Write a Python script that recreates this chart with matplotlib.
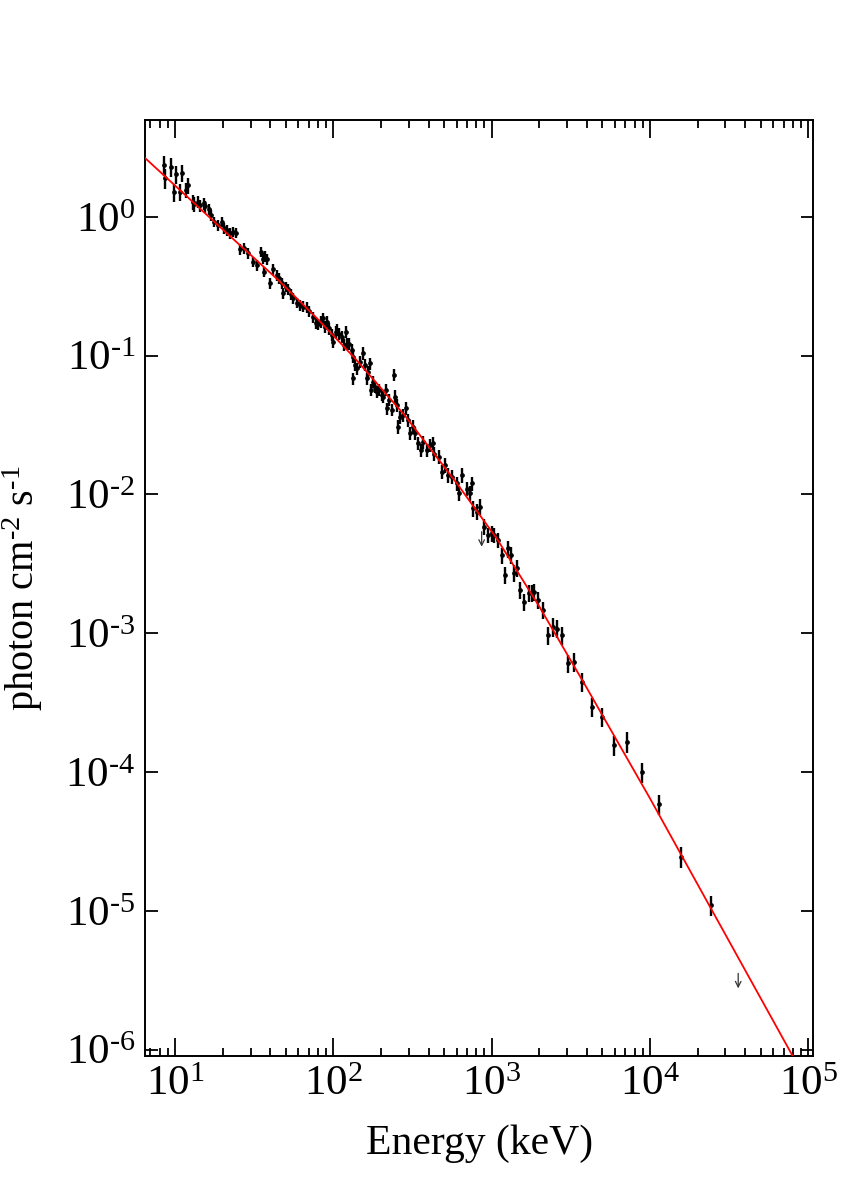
import numpy as np
import matplotlib
matplotlib.use("Agg")
import matplotlib.pyplot as plt
from matplotlib.ticker import FuncFormatter, NullLocator, NullFormatter, LogLocator

plt.rcParams.update({
    'font.family': 'Liberation Serif',
    'mathtext.fontset': 'custom',
    'mathtext.rm': 'Liberation Serif',
    'mathtext.it': 'Liberation Serif:italic',
    'mathtext.bf': 'Liberation Serif:bold',
})

# measured spectrum (keV, photon cm^-2 s^-1), relative 1-sigma error
energy = [8.52, 8.6, 9.40, 9.85, 10.15, 10.75, 11.1, 11.7, 12.1, 12.9, 13.2,
          14.0, 14.4, 15.3, 15.5, 16.5, 16.9, 17.7, 18.8, 19.7, 20.4, 21.4,
          22.2, 23.1, 24.3, 25.7, 27.3, 29.0, 31.0, 32.8, 34.8, 35.8, 36.5,
          37.0, 38.3, 39.8, 41.8, 43.9, 45.6, 47.2, 48.3, 50.2, 52.0, 53.8,
          55.9, 58.7, 61.6, 64.6, 67.9, 70.5, 74.8, 77.4, 80.4,
          83.2, 85.7, 88.7, 90.8, 94.4, 97.7, 100, 104, 106, 109, 113, 116,
          120, 122, 126, 131, 132.5, 134, 137, 142, 148, 153, 159, 163, 166,
          171, 172, 177, 183, 190, 195, 202, 207, 215, 219, 226, 234, 242,
          245, 251, 257, 264, 277, 288, 298, 305, 318, 328, 344, 357, 367,
          389, 408, 425, 433, 468, 484, 508, 533, 560, 602, 626, 647, 696,
          731, 749, 766, 813, 845,
          900, 953, 1000, 1040, 1100, 1160, 1216, 1275, 1327, 1387, 1441,
          1512, 1603, 1716, 1792, 1853, 1955, 2103, 2261, 2432, 2602, 2798,
          3027, 3318, 3710, 4289, 4963, 5935, 7198, 8874, 11460, 15670, 24300]
flux = [2.36, 1.89, 2.29, 1.51, 2.03, 1.51, 2.07, 1.56, 1.69, 1.28, 1.23,
        1.28, 1.21, 1.25, 1.19, 1.13, 1.03, 0.92, 0.871, 0.92, 0.825, 0.80,
        0.759, 0.78, 0.767, 0.582, 0.592, 0.545, 0.474, 0.449, 0.56, 0.50, 0.402,
        0.521, 0.493, 0.331, 0.418, 0.38, 0.36, 0.331, 0.281, 0.313, 0.30, 0.277,
        0.258, 0.24, 0.231, 0.225, 0.222, 0.21, 0.19, 0.171, 0.169,
        0.175, 0.185, 0.161, 0.175, 0.157, 0.141, 0.126, 0.148, 0.153, 0.144, 0.137, 0.119,
        0.148, 0.122, 0.122, 0.11, 0.0685, 0.098, 0.0855, 0.0809, 0.0902, 0.104, 0.0855, 0.0685, 0.0764,
        0.0879, 0.0564, 0.0647, 0.0596, 0.0548, 0.0564, 0.0519, 0.0505, 0.0564, 0.0417, 0.0478, 0.0405, 0.0724,
        0.0505, 0.044, 0.0307, 0.0362, 0.0373, 0.0417, 0.0343, 0.0275, 0.0307, 0.0275, 0.0233, 0.0208, 0.0239,
        0.0208, 0.0227, 0.0233, 0.0197, 0.0187, 0.0146, 0.0163, 0.0138, 0.0134, 0.012, 0.0102, 0.0138, 0.011,
        0.0102, 0.012, 0.00793, 0.0075, 0.00814,
        0.00584, 0.00509, 0.00524, 0.00509, 0.00469, 0.00365, 0.00262, 0.00408, 0.00365, 0.0027, 0.00293,
        0.00204, 0.00168, 0.00194, 0.00194, 0.00199, 0.00173, 0.00147, 0.000969, 0.00111, 0.00108, 0.000969,
        0.000606, 0.000622, 0.000447, 0.000295, 0.00025, 0.000156, 0.000165, 0.0001, 5.87e-5, 2.45e-5, 1.1e-5]
rel_err = [0.16, 0.16, 0.15, 0.15, 0.15, 0.14, 0.14, 0.13, 0.13, 0.12, 0.12,
           0.10, 0.10, 0.10, 0.10, 0.09, 0.09, 0.09, 0.09, 0.09, 0.09, 0.09,
           0.09, 0.09, 0.09, 0.09, 0.09, 0.09, 0.09, 0.09, 0.09, 0.09, 0.09,
           0.09, 0.09, 0.09, 0.09, 0.09, 0.09, 0.09, 0.09, 0.09, 0.09, 0.09,
           0.09, 0.09, 0.09, 0.09, 0.09, 0.09, 0.09, 0.09, 0.09,
           0.10, 0.10, 0.10, 0.10, 0.10, 0.10, 0.10, 0.10, 0.10, 0.10, 0.10, 0.10,
           0.10, 0.10, 0.10, 0.10, 0.10, 0.10, 0.10, 0.10, 0.10, 0.10, 0.10, 0.10, 0.10,
           0.10, 0.10, 0.10, 0.10, 0.10, 0.10, 0.10, 0.10, 0.10, 0.10, 0.10, 0.10, 0.10,
           0.11, 0.11, 0.11, 0.11, 0.11, 0.11, 0.11, 0.11, 0.11, 0.11, 0.11, 0.11, 0.11,
           0.11, 0.11, 0.11, 0.11, 0.12, 0.12, 0.12, 0.12, 0.12, 0.12, 0.12, 0.12, 0.12,
           0.12, 0.12, 0.13, 0.13, 0.13,
           0.13, 0.13, 0.13, 0.13, 0.13, 0.13, 0.14, 0.14, 0.14, 0.14, 0.14,
           0.14, 0.14, 0.14, 0.14, 0.14, 0.14, 0.14, 0.15, 0.15, 0.15, 0.15,
           0.15, 0.15, 0.16, 0.16, 0.16, 0.17, 0.17, 0.17, 0.17, 0.17, 0.17]

# upper limits
ul_energy = [865, 36100]
ul_flux = [0.00538, 3.54e-6]

# fitted model curve
model_energy = [6.47, 10.0, 19.95, 44.9, 79.4, 137, 282, 603, 1076, 2000,
                3981, 10000, 28200, 79800]
model_flux = [2.65, 1.68, 0.813, 0.350, 0.184, 0.0955, 0.0372, 0.0120,
              0.00482, 0.001556, 0.000405, 6.46e-5, 7.64e-6, 8.97e-7]

x_ticks = [1e1, 1e2, 1e3, 1e4, 1e5]
y_ticks = [1e-6, 1e-5, 1e-4, 1e-3, 1e-2, 1e-1, 1e0]


def pow10(v, pos):
    # xspec-style label: short hyphen in the exponent
    n = int(round(np.log10(v)))
    s = str(n).replace('-', '\u2010')
    return r'$\mathdefault{10^{%s}}$' % s


fig = plt.figure(figsize=(8.57, 12), dpi=100)
ax = fig.add_axes([0.1692, 0.1204, 0.7798, 0.7796])

ax.plot(model_energy, model_flux, color='red', lw=1.3, zorder=3)
err = np.array(rel_err) * np.array(flux)
ax.errorbar(energy, flux, yerr=err, fmt='o', ms=2.4, color='black',
            elinewidth=1.7, capsize=0, zorder=2)
for e, f in zip(ul_energy, ul_flux):
    ax.annotate('', xy=(e, f * 0.78), xytext=(e, f),
                arrowprops=dict(arrowstyle='->', color='#333333', lw=0.9,
                                shrinkA=0, shrinkB=0))

ax.set_xscale('log')
ax.set_yscale('log')
ax.set_xlim(6.465, 1.076e5)
ax.set_ylim(9.06e-7, 4.98)

ax.set_xticks(x_ticks)
ax.xaxis.set_minor_locator(LogLocator(base=10, subs=range(2, 10), numticks=12))
ax.xaxis.set_minor_formatter(NullFormatter())
ax.set_yticks(y_ticks)
ax.yaxis.set_minor_locator(NullLocator())
ax.xaxis.set_major_formatter(FuncFormatter(pow10))
ax.yaxis.set_major_formatter(FuncFormatter(pow10))

ax.tick_params(which='both', direction='in', top=True, right=True,
               labelsize=31, width=1.3)
ax.tick_params(axis='x', which='major', length=13, pad=7)
ax.tick_params(axis='x', which='minor', length=6)
ax.tick_params(axis='y', which='major', length=9, pad=7)
for s in ax.spines.values():
    s.set_linewidth(1.4)

ax.set_xlabel('Energy (keV)', fontsize=30)
ax.xaxis.set_label_coords(0.5, -0.074)
ax.set_ylabel('photon cm$^{\\mathdefault{\u20102}}$ s$^{\\mathdefault{\u20101}}$',
              fontsize=29)
ax.yaxis.set_label_coords(-0.150, 0.5)

fig.savefig('out.png', dpi=100)
